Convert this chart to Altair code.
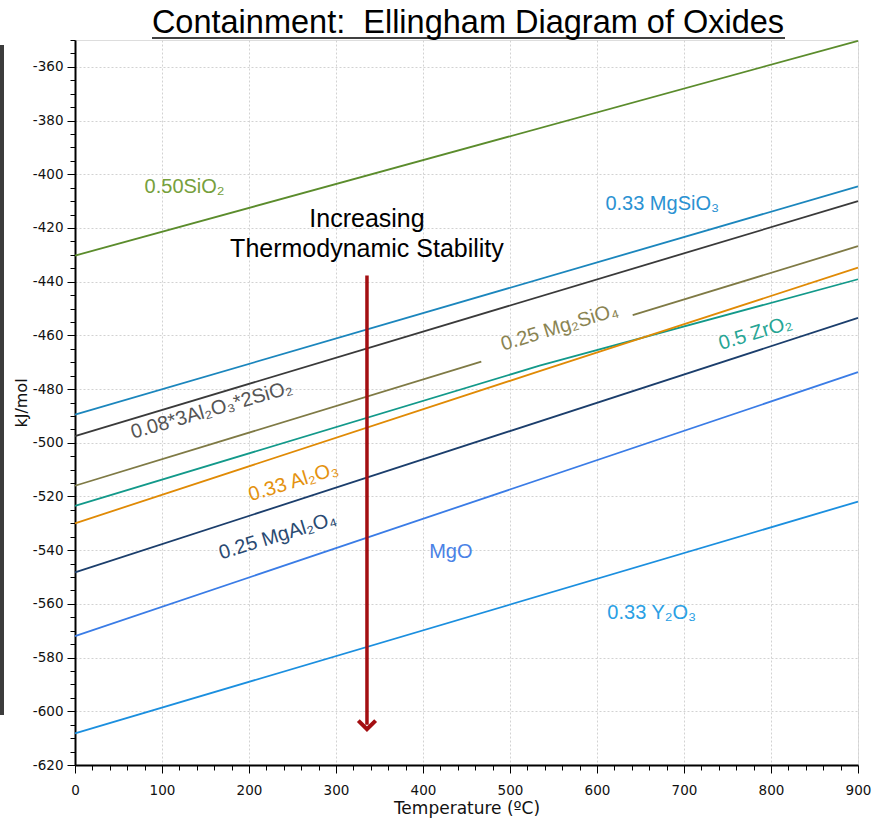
import altair as alt
import pandas as pd

# ---- data (temperature in degC, energy in kJ/mol) ----
series_names = ["0.50SiO2", "0.33 MgSiO3", "0.08*3Al2O3*2SiO2", "0.25 Mg2SiO4",
                "0.5 ZrO2", "0.33 Al2O3", "0.25 MgAl2O4", "MgO", "0.33 Y2O3"]
line_colors = ["#5b8c2c", "#1b86bd", "#3a3a3a", "#7f7a45", "#12998a",
               "#e08a05", "#1b3e6c", "#3a7ce6", "#1b8fdf"]

sio2_t = [0, 900];        sio2_g = [-430.3, -350.3]
mgsio3_t = [0, 900];      mgsio3_g = [-489.5, -404.5]
mullite_t = [0, 900];     mullite_g = [-497.5, -410.0]
mg2sio4_a_t = [0, 467];   mg2sio4_a_g = [-516.0, -469.8]
mg2sio4_b_t = [641, 900]; mg2sio4_b_g = [-452.5, -426.8]
zro2_t = [0, 534, 900];   zro2_g = [-523.5, -471.3, -439.1]
al2o3_t = [0, 534, 900];  al2o3_g = [-530.0, -473.3, -434.8]
mgal2o4_t = [0, 900];     mgal2o4_g = [-548.3, -453.5]
mgo_t = [0, 900];         mgo_g = [-572.0, -473.7]
y2o3_t = [0, 900];        y2o3_g = [-608.2, -521.9]

segments = [
    ("0.50SiO2", "a", sio2_t, sio2_g),
    ("0.33 MgSiO3", "a", mgsio3_t, mgsio3_g),
    ("0.08*3Al2O3*2SiO2", "a", mullite_t, mullite_g),
    ("0.25 Mg2SiO4", "a", mg2sio4_a_t, mg2sio4_a_g),
    ("0.25 Mg2SiO4", "b", mg2sio4_b_t, mg2sio4_b_g),
    ("0.5 ZrO2", "a", zro2_t, zro2_g),
    ("0.33 Al2O3", "a", al2o3_t, al2o3_g),
    ("0.25 MgAl2O4", "a", mgal2o4_t, mgal2o4_g),
    ("MgO", "a", mgo_t, mgo_g),
    ("0.33 Y2O3", "a", y2o3_t, y2o3_g),
]

# labels
label_texts = ["0.50SiO₂", "0.33 MgSiO₃", "0.08*3Al₂O₃*2SiO₂", "0.25 Mg₂SiO₄",
               "0.5 ZrO₂", "0.33 Al₂O₃", "0.25 MgAl₂O₄", "MgO", "0.33 Y₂O₃"]
label_t = [126, 675, 157, 557, 782, 251, 233, 432, 663]
label_g = [-404.6, -410.9, -487.8, -457.0, -459.2, -514.6, -534.7, -540.6, -563.3]
label_angle = [0, 0, 344, 343, 343, 343, 343, 0, 0]
label_colors = ["#76a03c", "#2a92d2", "#555555", "#8a8452", "#27a595",
                "#e4920f", "#2a4a72", "#4a82e6", "#2a9fe4"]

note_lines = ["Increasing", "Thermodynamic Stability"]
note_t = [335.6, 335.6]
note_g = [-416.5, -428.0]

arrow_t = [335.6]
arrow_top = [-437.7]
arrow_bottom = [-605.0]
arrow_tip = [-606.7]

title_text = "Containment:\u00a0\u00a0Ellingham Diagram of Oxides"

x_major = list(range(0, 901, 100))
x_minor = [v for v in range(0, 901, 20) if v % 100 != 0]
y_major = list(range(-360, -621, -20))
y_minor = [v for v in range(-350, -621, -5) if v % 20 != 0]

# ---- tables ----
rows = []
for name, seg, ts, gs in segments:
    for t, g in zip(ts, gs):
        rows.append({"series": name, "seg": name + seg, "t": t, "g": g})
lines_df = pd.DataFrame(rows)

labels_df = pd.DataFrame({"text": label_texts, "t": label_t, "g": label_g,
                          "angle": label_angle, "color": label_colors})
note_df = pd.DataFrame({"text": note_lines, "t": note_t, "g": note_g})
arrow_df = pd.DataFrame({"t": arrow_t, "top": arrow_top, "bottom": arrow_bottom,
                         "tip": arrow_tip})
title_df = pd.DataFrame({"text": [title_text]})

FONT_AX = "DejaVu Sans"
FONT_TX = "Liberation Sans"

x_scale = alt.Scale(domain=[0, 900], nice=False, zero=False)
y_scale = alt.Scale(domain=[-620, -350], nice=False, zero=False)

x_axis = alt.Axis(values=x_major, title="Temperature (ºC)", grid=True,
                  gridColor="#d2d2d2", gridDash=[2, 2], gridWidth=1,
                  tickSize=8, tickColor="black", tickWidth=1,
                  domainColor="black", domainWidth=2,
                  labelFont=FONT_AX, labelFontSize=13.5, labelColor="#111111",
                  labelPadding=10, titleFont=FONT_AX, titleFontSize=17,
                  titleFontWeight="normal", titleColor="#111111", titlePadding=4,
                  labelFlush=False, labelOverlap=False, orient="bottom")
y_axis = alt.Axis(values=y_major, title="kJ/mol", grid=True,
                  gridColor="#d2d2d2", gridDash=[2, 2], gridWidth=1,
                  tickSize=8, tickColor="black", tickWidth=1,
                  domainColor="black", domainWidth=2,
                  labelFont=FONT_AX, labelFontSize=13.5, labelColor="#111111",
                  labelPadding=4, labelExpr="'' + datum.value",
                  titleFont=FONT_AX, titleFontSize=16, titleFontWeight="normal",
                  titleColor="#111111", titlePadding=3,
                  labelFlush=False, labelOverlap=False, orient="left")

lines = alt.Chart(lines_df).mark_line(strokeWidth=1.8).encode(
    x=alt.X("t:Q", scale=x_scale, axis=x_axis),
    y=alt.Y("g:Q", scale=y_scale, axis=y_axis),
    color=alt.Color("series:N", scale=alt.Scale(domain=series_names, range=line_colors),
                    legend=None),
    detail="seg:N",
)

minor = alt.Chart(lines_df).mark_point(opacity=0).encode(
    x=alt.X("t:Q", axis=alt.Axis(values=x_minor, labels=False, tickSize=5,
                                 tickColor="black", grid=False, domain=False,
                                 title=None, orient="bottom")),
    y=alt.Y("g:Q", axis=alt.Axis(values=y_minor, labels=False, tickSize=5,
                                 tickColor="black", grid=False, domain=False,
                                 title=None, orient="left")),
)

labels = alt.Chart(labels_df).mark_text(font=FONT_TX, fontSize=20, align="center",
                                        baseline="middle").encode(
    x=alt.X("t:Q", axis=None), y=alt.Y("g:Q", axis=None), text="text:N",
    angle=alt.Angle("angle:Q", scale=None),
    color=alt.Color("color:N", scale=None),
)

note = alt.Chart(note_df).mark_text(font=FONT_TX, fontSize=25, align="center",
                                    baseline="middle", color="#000000").encode(
    x=alt.X("t:Q", axis=None), y=alt.Y("g:Q", axis=None), text="text:N")

shaft = alt.Chart(arrow_df).mark_rule(color="#a30f12", strokeWidth=3.5).encode(
    x=alt.X("t:Q", axis=None), y=alt.Y("top:Q", axis=None), y2="bottom:Q")
head = alt.Chart(arrow_df).mark_point(shape="M -1 -1 L 0 0 L 1 -1", filled=False,
                                      color="#a30f12", strokeWidth=4, size=300,
                                      opacity=1).encode(
    x=alt.X("t:Q", axis=None), y=alt.Y("tip:Q", axis=None))

title = alt.Chart(title_df).mark_text(font=FONT_TX, fontSize=32.5, align="center",
                                      baseline="alphabetic", color="#000000").encode(
    text="text:N", x=alt.value(393), y=alt.value(-7))

deco_df = pd.DataFrame({"k": [0]})
underline = alt.Chart(deco_df).mark_rule(color="black", strokeWidth=1.5).encode(
    x=alt.value(77), x2=alt.value(710), y=alt.value(-2))
sidebar = alt.Chart(deco_df).mark_rule(color="#3c3c3c", strokeWidth=4).encode(
    x=alt.value(-73), y=alt.value(5), y2=alt.value(675))

chart = alt.layer(lines, minor, labels, note, shaft, head, title, underline, sidebar).resolve_axis(
    x="independent", y="independent"
).properties(
    width=783, height=725,
    autosize=alt.AutoSizeParams(type="none"),
    padding={"left": 75, "top": 40, "right": 15, "bottom": 54},
).configure_view(stroke="black", strokeWidth=1.5).configure(background="white")

chart.save("out.html", embed_options={"renderer": "svg", "actions": False})
